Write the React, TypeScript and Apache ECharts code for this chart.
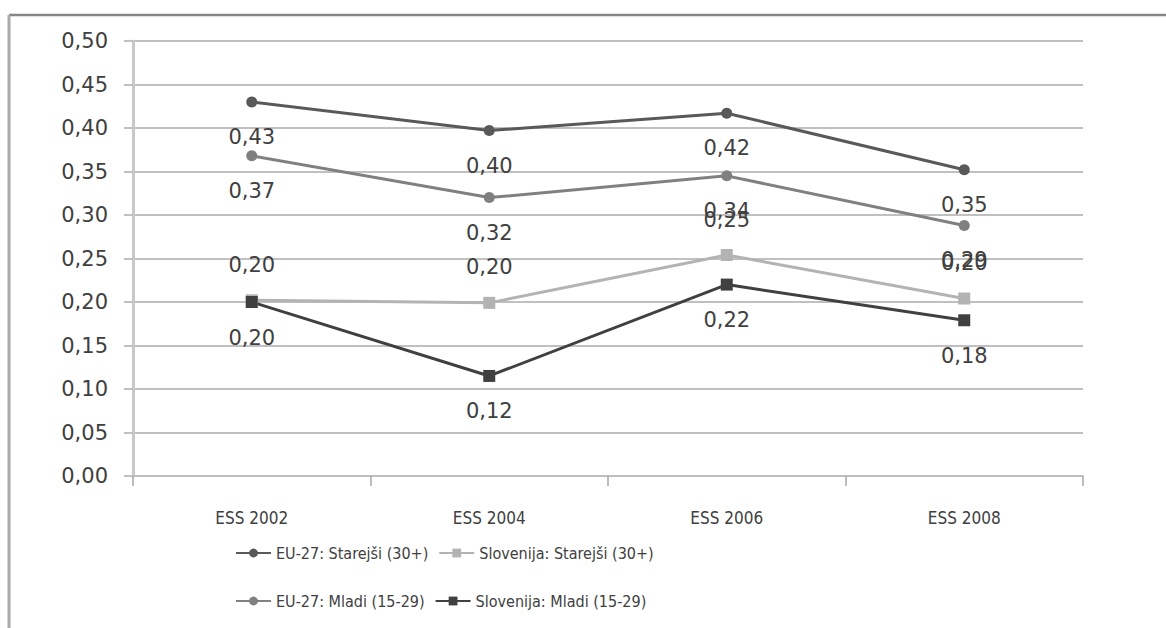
import React, { useEffect, useRef } from "react";
import * as echarts from "echarts";

const categories = ["ESS 2002", "ESS 2004", "ESS 2006", "ESS 2008"];
const seriesNames = [
  "EU-27: Starejši (30+)",
  "Slovenija: Starejši (30+)",
  "EU-27: Mladi (15-29)",
  "Slovenija: Mladi (15-29)",
];
const euOlder = [0.43, 0.397, 0.417, 0.352];
const sloOlder = [0.202, 0.199, 0.254, 0.204];
const euYoung = [0.368, 0.32, 0.345, 0.288];
const sloYoung = [0.2, 0.115, 0.22, 0.179];
const seriesValues = [euOlder, sloOlder, euYoung, sloYoung];
const seriesColors = ["#595959", "#b3b3b3", "#808080", "#404040"];
const seriesSymbols = ["circle", "rect", "circle", "rect"];
const labelPositions = ["bottom", "top", "bottom", "bottom"];

const NUM_FONT = "'DejaVu Sans', Verdana, sans-serif";
const NARROW_FONT = "'Liberation Sans Narrow', 'DejaVu Sans Condensed', 'Open Sans', sans-serif";

const fmt = (v: number) => v.toFixed(2).replace(".", ",");

export default function App() {
  const ref = useRef<HTMLDivElement>(null);
  useEffect(() => {
    if (!ref.current) return;
    const chart = echarts.init(ref.current, undefined, { renderer: "svg" });
    const series = seriesNames.map((name, i) => ({
      name,
      type: "line",
      data: seriesValues[i],
      symbol: seriesSymbols[i],
      symbolSize: seriesSymbols[i] === "rect" ? 12 : 11,
      lineStyle: { color: seriesColors[i], width: 3 },
      itemStyle: { color: seriesColors[i] },
      label: {
        show: true,
        position: labelPositions[i],
        distance: 19,
        formatter: (p: any) => fmt(p.value),
        color: "#404040",
        fontFamily: NUM_FONT,
        fontSize: 21,
      },
      emphasis: { disabled: true },
    }));
    const legendCommon = {
      left: 235,
      padding: 0,
      itemWidth: 35,
      itemHeight: 11,
      itemGap: 10,
      textStyle: {
        fontFamily: NARROW_FONT,
        fontSize: 16,
        color: "#404040",
        width: 156,
      },
    };
    chart.setOption({
      animation: false,
      backgroundColor: "#ffffff",
      grid: { left: 133, right: 83, top: 41, bottom: 152, containLabel: false },
      legend: [
        { ...legendCommon, top: 545, data: [seriesNames[0], seriesNames[1]] },
        { ...legendCommon, top: 593, data: [seriesNames[2], seriesNames[3]] },
      ],
      xAxis: {
        type: "category",
        data: categories,
        boundaryGap: true,
        axisLine: { show: true, lineStyle: { color: "#bfbfbf", width: 2 } },
        axisTick: { show: true, length: 10, lineStyle: { color: "#a6a6a6", width: 1.5 } },
        axisLabel: {
          margin: 33,
          fontFamily: NARROW_FONT,
          fontSize: 17,
          color: "#404040",
        },
        splitLine: { show: false },
      },
      yAxis: {
        type: "value",
        min: 0,
        max: 0.5,
        interval: 0.05,
        axisLine: { show: true, lineStyle: { color: "#c8c8c8", width: 3 } },
        axisTick: { show: true, length: 9, lineStyle: { color: "#c0c0c0", width: 2 } },
        axisLabel: {
          margin: 25,
          formatter: (v: number) => fmt(v),
          fontFamily: NUM_FONT,
          fontSize: 21,
          color: "#404040",
        },
        splitLine: { show: true, lineStyle: { color: "#c0c0c0", width: 2 } },
      },
      graphic: [
        {
          type: "line",
          shape: { x1: 9, y1: 15, x2: 1166, y2: 15 },
          style: { stroke: "#858585", lineWidth: 2.5 },
        },
        {
          type: "line",
          shape: { x1: 9, y1: 15, x2: 9, y2: 628 },
          style: { stroke: "#aaaaaa", lineWidth: 3 },
        },
      ],
      series,
    });
    return () => chart.dispose();
  }, []);
  return (
    <div
      ref={ref}
      style={{ position: "absolute", left: 0, top: 0, width: 1166, height: 628 }}
    />
  );
}
